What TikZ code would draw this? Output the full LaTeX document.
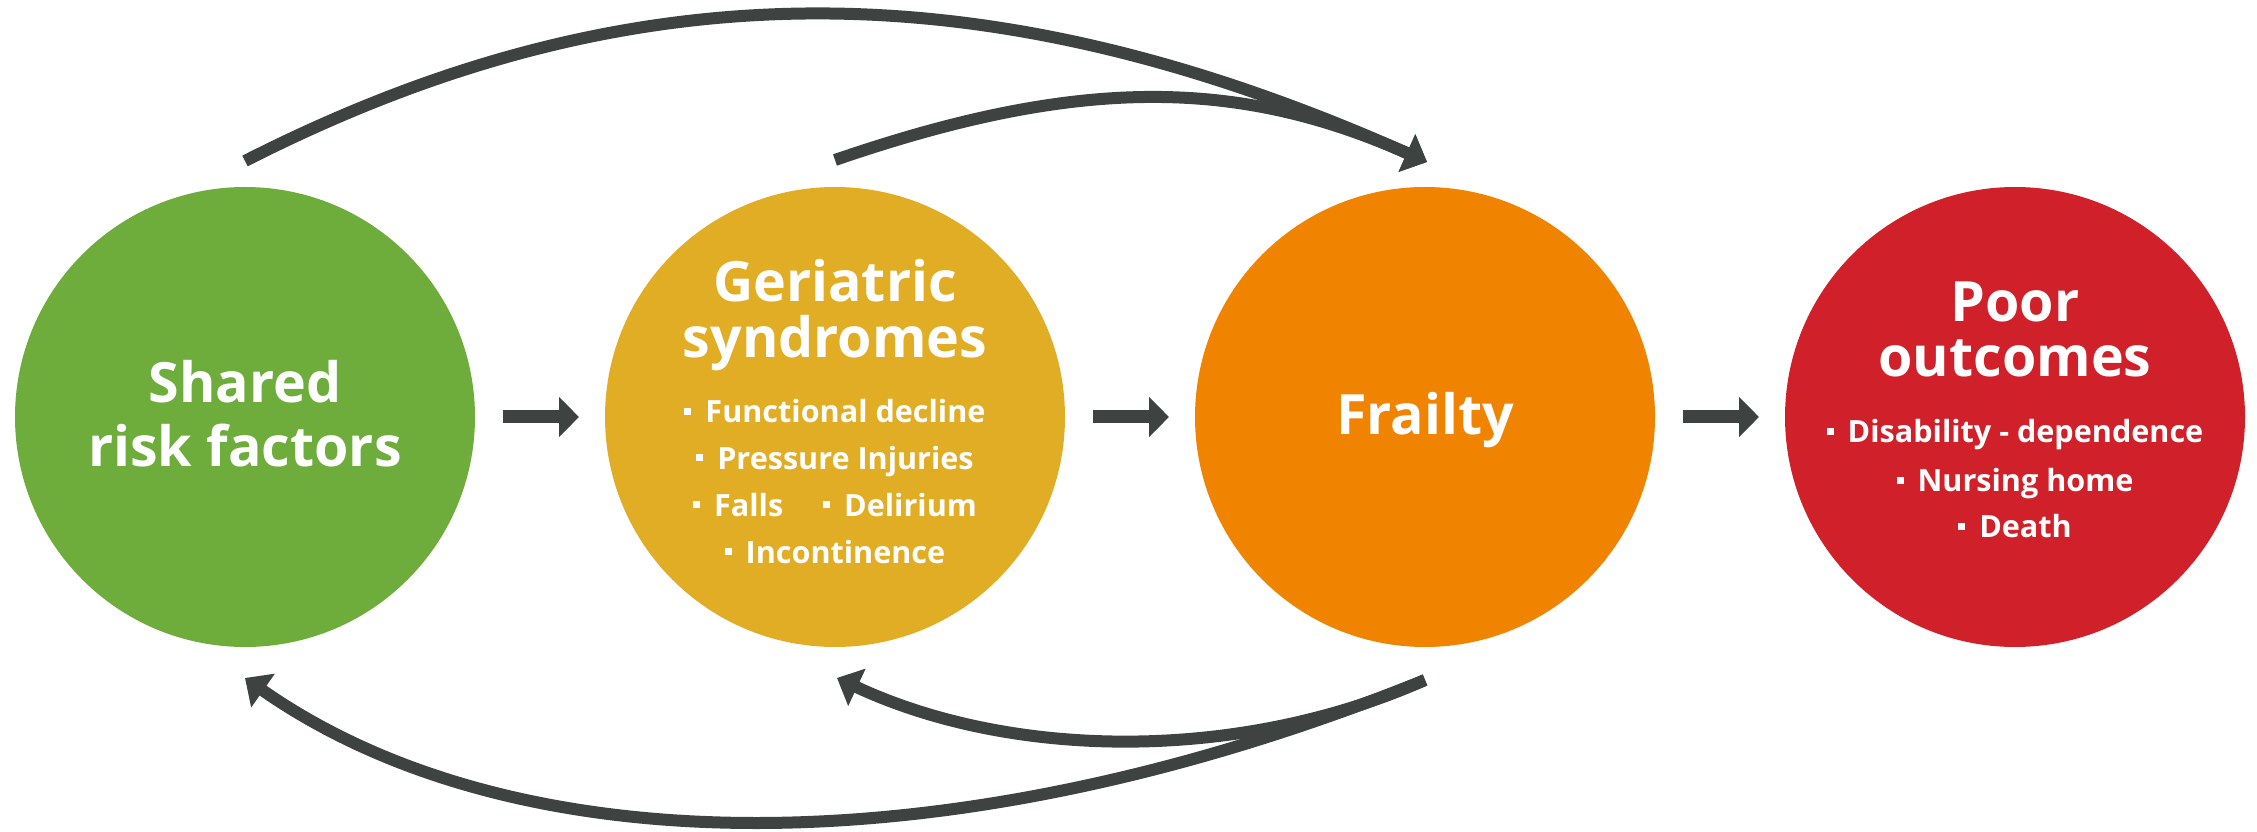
\documentclass[tikz,border=0pt]{standalone}
\usepackage{fontspec}
\setmainfont{Open Sans}
\usetikzlibrary{positioning,arrows.meta}
\definecolor{riskgreen}{RGB}{110,173,60}
\definecolor{geryellow}{RGB}{225,173,37}
\definecolor{frailorange}{RGB}{240,131,0}
\definecolor{poorred}{RGB}{208,33,43}
\definecolor{arrowgray}{RGB}{62,67,65}
\newcommand{\sqb}{\rule[0.8mm]{0.7mm}{0.7mm}\hspace{1.4mm}}

\begin{document}
\begin{tikzpicture}[disc/.style={circle,minimum size=4.6cm,inner sep=0pt,outer sep=0pt},
ttl/.style={anchor=base,inner sep=0pt,text=white,font=\bfseries\fontsize{15.8}{16}\selectfont},
itm/.style={anchor=base,inner sep=0pt,text=white,font=\bfseries\fontsize{8.7}{10}\selectfont},
flow/.style={draw=arrowgray,line width=1.3mm,-{Triangle[length=2mm,width=3.9mm]},shorten <=2.8mm,shorten >=2.6mm},
feedback/.style={draw=arrowgray,line width=1.2mm,-{Triangle[length=2.2mm,width=4mm]}}]
\useasboundingbox (0,0) rectangle (22.57,8.31);
\node[disc,fill=riskgreen] (risk) at (2.45,4.14) {};
\node[disc,fill=geryellow,right=1.3cm of risk] (synd) {};
\node[disc,fill=frailorange,right=1.3cm of synd] (frail) {};
\node[disc,fill=poorred,right=1.3cm of frail] (poor) {};
% texts
\foreach \i/\y/\t in {1/0.14/Shared,2/-0.50/risk factors} {
   \node[ttl] (risk-\i) at ([yshift=\y cm]risk.center) {\t};
}
\foreach \i/\y/\t in {1/1.15/Geriatric,2/0.59/syndromes} {
   \node[ttl] (synd-\i) at ([yshift=\y cm]synd.center) {\t};
}
\foreach \i/\y/\t in {1/-0.06/{\sqb Functional decline},2/-0.52/{\sqb Pressure Injuries},%
3/-0.99/{\sqb Falls\hspace{4mm}\sqb Delirium},4/-1.46/{\sqb Incontinence}} {
   \node[itm] (synd-item\i) at ([yshift=\y cm]synd.center) {\t};
}
\node[ttl] (frail-1) at ([yshift=-0.18cm]frail.center) {Frailty};
\foreach \i/\y/\t in {1/0.95/Poor,2/0.40/outcomes} {
   \node[ttl] (poor-\i) at ([yshift=\y cm]poor.center) {\t};
}
\foreach \i/\y/\t in {1/-0.26/{\sqb Disability - dependence},2/-0.75/{\sqb Nursing home},3/-1.21/{\sqb Death}} {
   \node[itm] (poor-item\i) at ([yshift=\y cm]poor.center) {\t};
}
% straight arrows
\draw[flow] (risk) -- (synd);
\draw[flow] (synd) -- (frail);
\draw[flow] (frail) -- (poor);
% arcs
\draw[feedback] ([yshift=2.6mm]risk.north) .. controls +(3.85,1.96) and +(-4.40,1.96) .. ([xshift=0.2mm,yshift=2.5mm]frail.north);
\draw[feedback] ([yshift=2.7mm]synd.north) .. controls +(2.44,0.84) and +(-1.89,0.84) .. ([xshift=0.2mm,yshift=2.5mm]frail.north);
\draw[feedback] ([yshift=-3.3mm]frail.south) .. controls +(-4.68,-1.89) and +(2.73,-1.91) .. ([yshift=-3.1mm]risk.south);
\draw[feedback] ([yshift=-3.3mm]frail.south) .. controls +(-1.82,-0.81) and +(1.78,-0.83) .. ([xshift=0.2mm,yshift=-3.1mm]synd.south);
\end{tikzpicture}
\end{document}
